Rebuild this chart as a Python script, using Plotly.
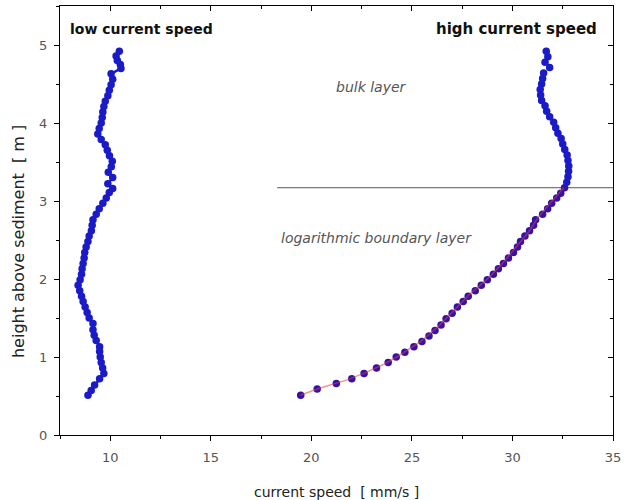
import plotly.graph_objects as go

# Low current speed profile
low_height = [0.51, 0.57, 0.64, 0.72, 0.79, 0.86, 0.93, 1.00, 1.07, 1.13, 1.21, 1.28, 1.35, 1.43,
              1.50, 1.57, 1.64, 1.71, 1.78, 1.85, 1.92, 1.99, 2.06, 2.13, 2.20, 2.27, 2.34, 2.41,
              2.48, 2.55, 2.62, 2.69, 2.76, 2.83, 2.90, 2.97, 3.04, 3.11, 3.16, 3.22, 3.30, 3.37,
              3.44, 3.51, 3.58, 3.65, 3.72, 3.79, 3.86, 3.93, 4.00, 4.07, 4.14, 4.21, 4.28, 4.35,
              4.42, 4.49, 4.56, 4.63, 4.70, 4.75, 4.80, 4.86, 4.92]
low_speed = [8.89, 9.05, 9.22, 9.47, 9.68, 9.62, 9.55, 9.50, 9.47, 9.47, 9.30, 9.20, 9.14, 9.14,
             8.95, 8.85, 8.75, 8.65, 8.57, 8.48, 8.40, 8.50, 8.57, 8.60, 8.65, 8.70, 8.73, 8.80,
             8.89, 8.95, 9.06, 9.10, 9.14, 9.30, 9.45, 9.63, 9.80, 9.95, 10.12, 9.88, 10.12, 9.90,
             10.05, 10.10, 9.96, 9.85, 9.75, 9.55, 9.38, 9.45, 9.55, 9.60, 9.63, 9.68, 9.75, 9.88,
             9.95, 10.04, 10.12, 10.04, 10.53, 10.50, 10.35, 10.29, 10.45]

# High current speed profile
high_height = [0.51, 0.59, 0.66, 0.72, 0.79, 0.86, 0.93, 1.00, 1.06, 1.13, 1.20, 1.27, 1.34, 1.41,
               1.49, 1.56, 1.64, 1.71, 1.78, 1.85, 1.92, 1.99, 2.06, 2.13, 2.20, 2.27, 2.34, 2.41,
               2.48, 2.55, 2.62, 2.69, 2.76, 2.83, 2.90, 2.97, 3.04, 3.10, 3.17, 3.24, 3.31, 3.38,
               3.45, 3.52, 3.59, 3.66, 3.73, 3.80, 3.87, 3.94, 4.01, 4.08, 4.15, 4.22, 4.29, 4.36,
               4.43, 4.50, 4.57, 4.64, 4.71, 4.78, 4.85, 4.92]
high_speed = [19.47, 20.29, 21.24, 22.01, 22.62, 23.24, 23.82, 24.22, 24.65, 25.10, 25.50, 25.85,
              26.15, 26.45, 26.70, 27.00, 27.26, 27.55, 27.80, 28.15, 28.45, 28.75, 29.05, 29.30,
              29.55, 29.80, 30.05, 30.25, 30.40, 30.62, 30.85, 31.05, 31.15, 31.50, 31.75, 31.95,
              32.20, 32.40, 32.59, 32.70, 32.76, 32.79, 32.80, 32.76, 32.72, 32.60, 32.50, 32.42,
              32.26, 32.15, 32.05, 31.85, 31.70, 31.62, 31.45, 31.40, 31.38, 31.45, 31.50, 31.55,
              31.85, 31.62, 31.76, 31.68]

# Logarithmic fit through the boundary layer
fit_height = [0.51, 0.6, 0.7, 0.8, 0.9, 1.0, 1.2, 1.4, 1.6, 1.8, 2.0, 2.2, 2.4, 2.6, 2.8, 3.0, 3.17]
fit_speed = [19.45, 20.4, 21.7, 22.7, 23.55, 24.25, 25.45, 26.35, 27.1, 27.85, 28.75, 29.5, 30.15,
             30.8, 31.3, 31.95, 32.55]

# Boundary between layers
boundary_height = 3.17
boundary_x = [18.3, 35.0]

x_range = [7.5, 35]
y_range = [0, 5.5]
x_ticks = [10, 15, 20, 25, 30, 35]
y_ticks = [0, 1, 2, 3, 4, 5]

FONT = "DejaVu Sans, Verdana, sans-serif"
BLUE = "#1a1ac8"

fig = go.Figure()

fig.add_trace(go.Scatter(
    x=boundary_x, y=[boundary_height, boundary_height], mode="lines",
    line=dict(color="#555555", width=1), showlegend=False, hoverinfo="skip"))

fig.add_trace(go.Scatter(
    x=low_speed, y=low_height, mode="lines+markers",
    line=dict(color=BLUE, width=2.5),
    marker=dict(color=BLUE, size=7.5), showlegend=False))

high_colors = [BLUE if h > boundary_height else "#3412a8" for h in high_height]
fig.add_trace(go.Scatter(
    x=high_speed, y=high_height, mode="markers",
    marker=dict(color=high_colors, size=7.5), showlegend=False))

fig.add_trace(go.Scatter(
    x=fit_speed, y=fit_height, mode="lines",
    line=dict(color="rgba(230,60,60,0.55)", width=1.5), showlegend=False))

# invisible trace for mirrored (inside-tick) axes
fig.add_trace(go.Scatter(x=x_range, y=y_range, xaxis="x2", yaxis="y2",
                         mode="markers", marker=dict(opacity=0), showlegend=False,
                         hoverinfo="skip"))

tickfont = dict(family=FONT, size=13, color="#555555")

fig.update_layout(
    width=626, height=500,
    margin=dict(l=60, r=10, t=5, b=65),
    paper_bgcolor="white", plot_bgcolor="white",
    font=dict(family=FONT, size=13, color="#222222"),
    xaxis=dict(range=x_range, tickvals=x_ticks, ticks="outside", ticklen=5,
               tickcolor="black", tickfont=tickfont, ticklabelstandoff=5,
               showgrid=False, zeroline=False, showline=True, linecolor="black",
               linewidth=1, mirror=True,
               minor=dict(dtick=2.5, tick0=7.5, ticks="outside", ticklen=3, tickcolor="black")),
    yaxis=dict(range=y_range, tickvals=y_ticks, ticks="outside", ticklen=5,
               tickcolor="black", tickfont=tickfont, ticklabelstandoff=4,
               showgrid=False, zeroline=False, showline=True, linecolor="black",
               linewidth=1, mirror=True,
               minor=dict(dtick=0.5, tick0=0, ticks="outside", ticklen=3, tickcolor="black")),
    xaxis2=dict(range=x_range, overlaying="x", anchor="y2", side="top", tickvals=x_ticks,
                ticks="inside", showticklabels=False, showgrid=False, zeroline=False,
                showline=True, linecolor="black", tickcolor="black", ticklen=5,
                minor=dict(dtick=2.5, tick0=7.5, ticks="inside", ticklen=3, tickcolor="black")),
    yaxis2=dict(range=y_range, overlaying="y", anchor="x2", side="right", tickvals=y_ticks,
                ticks="inside", showticklabels=False, showgrid=False, zeroline=False,
                showline=True, linecolor="black", tickcolor="black", ticklen=5,
                minor=dict(dtick=0.5, tick0=0, ticks="inside", ticklen=3, tickcolor="black")),
    annotations=[
        dict(x=7.9, y=5.21, xref="x", yref="y", text="<b>low current speed</b>", showarrow=False,
             xanchor="left", yanchor="middle", font=dict(family=FONT, size=14, color="#111111")),
        dict(x=34.3, y=5.21, xref="x", yref="y", text="<b>high current speed</b>", showarrow=False,
             xanchor="right", yanchor="middle", font=dict(family=FONT, size=15, color="#111111")),
        dict(x=23.0, y=4.46, xref="x", yref="y", text="<i>bulk layer</i>", showarrow=False,
             xanchor="center", yanchor="middle", font=dict(family=FONT, size=14, color="#555555")),
        dict(x=23.25, y=2.53, xref="x", yref="y", text="<i>logarithmic boundary layer</i>",
             showarrow=False, xanchor="center", yanchor="middle",
             font=dict(family=FONT, size=14, color="#555555")),
        dict(x=0.5, y=-0.132, xref="paper", yref="paper", xanchor="center", yanchor="middle",
             text="current speed  [ mm/s ]", showarrow=False,
             font=dict(family=FONT, size=14, color="#222222")),
        dict(x=-0.074, y=0.45, xref="paper", yref="paper", xanchor="center", yanchor="middle",
             text="height above sediment  [ m ]", showarrow=False, textangle=-90,
             font=dict(family=FONT, size=16, color="#222222")),
    ],
)

fig.write_html("out.html", config={"displayModeBar": False},
               post_script="document.body.style.margin='0';")
